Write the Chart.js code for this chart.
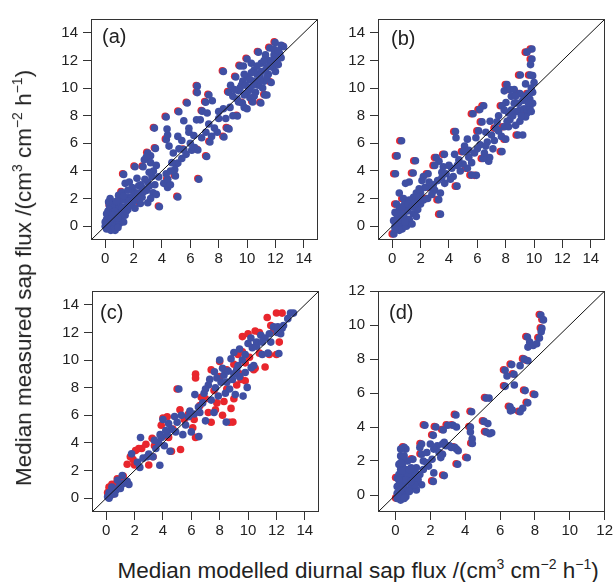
<!DOCTYPE html>
<html>
<head>
<meta charset="utf-8">
<script src="https://cdn.jsdelivr.net/npm/chart.js@4"></script>
<style>
body { margin:0; background:#fff; width:615px; height:582px; position:relative; overflow:hidden;
       font-family:"Liberation Sans", Arial, sans-serif; color:#222; }
.panel { position:absolute; width:297px; height:270px; }
.tag { position:absolute; font-size:20px; line-height:20px; }
.title { position:absolute; font-size:22.5px; line-height:22px; white-space:nowrap; transform-origin:center; }
sup { font-size:14px; line-height:0; vertical-align:9px; }
</style>
</head>
<body>
<div class="panel" style="left:31px;top:5px"><canvas id="ca" width="297" height="270"></canvas></div>
<div class="panel" style="left:318px;top:5px"><canvas id="cb" width="297" height="270"></canvas></div>
<div class="panel" style="left:32px;top:277px"><canvas id="cc" width="297" height="270"></canvas></div>
<div class="panel" style="left:318px;top:277px"><canvas id="cd" width="297" height="270"></canvas></div>

<div class="tag" style="left:102px;top:26px">(a)</div>
<div class="tag" style="left:391px;top:28px">(b)</div>
<div class="tag" style="left:100px;top:302px">(c)</div>
<div class="tag" style="left:389px;top:302px">(d)</div>

<div class="title" id="ytitle">Median measured sap flux /(cm<sup>3</sup> cm<sup>−2</sup> h<sup>−1</sup>)</div>
<div class="title" id="xtitle">Median modelled diurnal sap flux /(cm<sup>3</sup> cm<sup>−2</sup> h<sup>−1</sup>)</div>

<script>
// tick labels
const ticks14 = [0, 2, 4, 6, 8, 10, 12, 14];
const ticks12 = [0, 2, 4, 6, 8, 10, 12];

// 1:1 line ends
const diag15 = [-1, 15];
const diag12 = [-1, 12];

// (a)
const aBlue = [[0.0,0.0],[0.1,-0.2],[0.2,0.3],[0.1,0.5],[0.3,0.1],[0.4,-0.3],[0.5,0.2],[0.2,-0.1],[0.6,0.6],[0.7,0.1],[0.3,0.8],[0.5,1.0],[0.8,0.4],[0.9,0.9],[1.0,0.2],[0.6,-0.2],[1.1,0.6],[0.4,1.2],[0.8,1.3],[1.2,1.0],[0.2,1.1],[0.1,0.9],[0.7,-0.3],[1.3,0.3],[0.9,-0.1],[1.4,0.8],[0.3,1.5],[0.6,1.6],[1.5,1.1],[1.0,1.5],
  [0.35,2.0],[0.24,1.76],[0.94,2.23],[1.18,2.46],[1.7,2.1],[1.85,2.0],[1.3,3.75],[1.41,3.1],[1.7,3.2],[2.1,4.3],[2.24,3.47],[2.36,2.93],[2.19,2.1],[1.89,1.53],[1.4,1.4],[2.48,1.64],[3.0,1.7],[2.9,2.58],[3.37,2.42],[3.0,3.2],[3.5,3.0],[2.67,4.3],[2.76,4.81],[3.0,5.3],[3.2,5.1],[2.9,5.0],[3.2,4.6],[3.54,5.63],[3.47,7.1],[3.77,3.57],[3.6,2.3],[3.82,1.41],[4.13,3.1],[4.4,2.8],[4.41,3.4],[4.3,3.8],[4.6,3.0],[4.95,3.64],[5.0,4.5],[5.12,4.58],[4.8,5.3],[5.2,5.6],[4.31,6.27],[4.4,6.6],[4.36,7.04],[4.3,7.9],[4.5,5.8],[5.12,6.5],[5.4,6.2],[5.54,7.63],[5.54,5.54],[5.9,6.8],[5.9,7.09],[6.1,5.5],[6.25,6.57],[6.3,5.7],[6.53,5.52],[6.6,3.4],[6.44,7.7],[6.84,8.33],[6.7,7.7],[7.1,6.8],[7.19,8.2],[7.31,9.5],[7.55,9.08],[7.08,8.97],[7.15,5.05],[7.38,6.1],[7.5,6.5],[7.7,7.1],[7.9,6.8],[8.0,7.8],[8.33,8.5],[8.5,7.8],[8.6,7.09],[8.37,6.46],[8.73,7.04],[8.33,11.2],[8.7,9.7],[8.84,10.2],[9.2,10.8],[9.5,11.6],[9.74,11.6],[10.0,12.1],[9.5,10.0],[9.3,9.2],[9.67,8.92],[9.32,7.98],[10.0,8.5],[10.4,9.0],[10.97,8.92],[11.25,9.5],[11.4,9.5],
  [10.8,12.6],[11.3,12.4],[11.6,12.9],[11.98,13.3],[12.4,13.1],[12.57,13.0],[11.9,12.4],[12.1,12.0],[11.8,11.5],[12.2,11.7],[11.5,11.0],[11.2,10.5],[10.8,10.2],[10.5,10.5],[10.2,10.0],[9.9,9.6],[10.0,10.8],[10.5,11.3],[11.0,11.8],[11.5,12.0],[10.7,11.0],[11.3,11.3],[12.0,11.2],[11.7,10.4],[11.1,10.0],[10.6,9.7],[10.2,9.3],[9.8,9.5],[9.4,9.8],[9.0,9.4],[9.7,10.5],[10.3,11.8],[9.8,11.0],[11.9,12.8],[12.3,12.5],[6.49,10.14],[6.49,9.67],[5.19,8.29],[5.78,8.92],[5.4,4.9],[5.7,5.2],[4.9,4.1],[6.0,6.0],[6.8,6.4],[7.3,7.4],[8.0,8.3],[8.8,8.6],[9.0,8.0],[10.2,10.6],[11.0,11.2],
  [1.6,1.8],[2.0,2.5],[2.6,2.1],[2.8,3.4],[1.9,2.8],[2.5,3.0],[1.2,1.9],[2.1,1.3],[3.2,2.0],[2.7,2.5],
  [9.1,9.9],[9.6,10.2],[10.1,9.8],[10.4,10.2],[10.9,10.6],[11.4,10.8],[11.6,11.6],[12.0,12.3],[12.2,12.7],[11.2,12.0],[10.7,11.6],[10.3,11.1],[9.9,10.2],[9.4,9.0],[9.8,8.6],[10.5,9.4],[11.8,12.0],[12.4,12.2],[11.4,11.5],[10.9,10.9],
  [0.2,0.7],[0.5,0.8],[0.9,0.6],[1.2,1.3],[1.6,1.2],[0.8,1.8],[1.3,2.2],[1.6,2.6],[2.3,2.4],[2.6,2.8],[3.1,2.9],[3.3,3.6],[2.0,1.8],[1.7,1.5],[3.4,4.0],[3.6,4.4],[3.1,3.9],[4.6,4.0],[4.7,4.6],[5.12,2.11],[0.0,0.3],[0.4,0.5],[0.15,0.2]];
const aRed = [[3.40,7.15],[4.23,7.95],[4.24,6.32],[5.12,8.34],[5.71,8.97],[6.42,10.19],[6.42,9.72],[6.77,8.38],[7.24,9.55],[7.01,9.02],[8.26,11.25],[9.13,10.85],[9.43,11.65],[9.93,12.15],[10.73,12.65],[11.91,13.35],[11.53,12.95],[12.5,13.05],[10.9,8.97],[11.18,9.55],[9.6,8.97],[9.25,8.03],[8.53,7.14],[8.3,6.51],[7.08,5.1],[6.53,3.45],[3.75,1.46],[4.88,3.69],[2.41,1.69],[6.46,5.57],[5.47,5.59],[4.34,3.45],[8.63,9.75],[12.13,11.75],[11.63,10.45],[10.33,9.05],[2.93,5.35],[3.47,5.68],[1.23,3.8],[2.03,4.35],[2.6,4.35],[7.31,6.15],[8.66,7.09],[0.28,1.55],[1.11,2.51],[5.05,2.16]];

// (b)
const bBlue = [[9.85,12.83],[9.5,12.6],[9.85,12.1],[9.75,11.7],[9.73,10.95],[9.03,10.95],[9.9,10.9],[10.0,10.4],[8.09,10.25],[7.9,9.8],[8.3,9.9],[8.6,9.9],[9.0,9.6],[7.74,8.72],[8.02,8.96],[6.45,8.72],[6.17,8.44],[5.7,8.14],[6.33,7.55],[4.46,6.85],[4.5,6.4],[5.3,6.3],[5.1,5.8],[5.0,5.4],[5.9,6.4],[6.09,6.9],[6.7,6.1],[7.0,6.6],[7.3,7.1],[7.39,7.55],[7.9,7.2],[7.7,6.5],[8.2,7.2],[8.86,6.6],[8.0,6.3],[7.74,5.4],[6.87,4.97],[6.8,4.7],[6.4,4.9],[5.93,3.68],[5.6,3.7],[4.57,2.9],[5.3,4.2],[5.6,4.6],[5.0,4.5],[4.6,4.4],[4.2,4.2],[4.0,4.4],[4.4,5.2],[3.68,5.2],[3.1,4.97],[3.3,4.7],[3.0,4.4],[3.6,4.3],[3.8,3.8],[3.5,3.5],[3.2,3.3],[2.9,3.0],[2.7,2.8],[3.0,2.6],[3.4,2.4],[3.28,1.92],[3.4,0.87],[2.53,3.8],[2.2,3.6],[2.1,3.3],[2.3,2.8],[2.0,2.4],[2.5,2.0],[1.7,2.4],[1.5,2.1],[1.48,3.85],[1.2,3.2],[0.94,3.1],[1.64,4.74],[0.66,6.19],[0.35,5.09],[0.23,3.8],[0.5,2.4],[0.8,2.0],[0.3,1.6],[0.2,1.0],[0.5,1.2],[0.8,0.8],[1.0,1.3],[1.2,0.5],[0.6,0.2],[0.3,0.3],[0.4,-0.1],[0.12,-0.56],[0.7,-0.2],[1.0,0.0],[1.3,0.2],[1.4,0.16],[1.5,0.9],[1.8,1.2],[2.0,1.6],[0.9,1.7],[1.2,1.9],[0.5,0.6],[0.1,0.4],[0.2,0.0],[1.0,0.5],[1.8,1.8],[9.5,8.2],[9.3,8.5],[9.0,8.4],[9.7,9.2],[9.9,9.7],[9.6,9.6],[9.2,9.1],[8.8,8.3],[8.6,8.9],[9.0,7.6],[9.4,7.9],[8.3,7.7],[9.7,8.6],[9.9,8.9],[8.7,7.3],[9.2,6.6],[8.5,8.0],[7.5,8.0],[6.9,7.6],[6.6,6.8],[6.2,5.9],[5.8,5.3],[4.8,4.0],[4.3,3.6],[3.7,3.1],[2.6,3.2],[1.9,2.1],[1.1,1.1],[0.6,0.9],[0.4,0.7],[7.1,5.6],[7.5,6.9],[8.4,9.4],[9.4,10.3],[6.5,5.3],[5.4,5.0],
  [0.3,0.9],[0.7,1.4],[1.1,1.6],[1.4,1.4],[1.6,1.6],[0.9,0.3],[0.5,-0.3],[0.2,-0.2],[1.7,0.7],[2.2,1.9],[2.8,2.3],[1.9,2.7],[3.5,3.9],[4.1,3.4],[4.7,4.8],[5.4,5.5],[6.0,5.6],[6.6,5.8],[7.2,6.2],[8.1,7.6],[8.4,8.4],[8.9,8.9],[9.3,9.4],[9.6,8.9],[9.8,8.3],[9.1,8.0],[8.7,9.4],[9.8,10.0],[8.2,8.2],[7.9,8.4]];
const bRed = [[9.73,12.83],[9.38,12.6],[9.73,12.1],[8.91,10.95],[9.61,10.95],[7.97,10.25],[6.33,8.72],[6.05,8.44],[5.58,8.14],[6.21,7.55],[4.34,6.85],[3.56,5.2],[2.98,4.97],[3.16,1.92],[3.28,0.87],[4.45,2.9],[5.81,3.68],[5.48,3.7],[6.75,4.97],[7.62,5.4],[8.74,6.6],[7.62,8.72],[8.18,9.9],[1.52,4.74],[0.54,6.19],[0.23,5.09],[0.11,3.8],[0.0,-0.56],[1.36,3.85],[2.41,3.8],[5.18,4.2],[6.28,4.9],[7.78,7.2],[7.18,7.1],[5.97,6.9],[4.88,5.4],[2.88,4.4],[2.58,2.8],[1.18,0.2],[0.68,2.0],[9.38,8.2],[9.48,9.6],[7.88,6.3],[8.88,9.6],[0.88,1.3],[0.18,1.6],[2.38,2.0]];

// (c)
const cBlue = [[0.1,0.1],[0.2,0.4],[0.3,0.2],[0.5,0.5],[0.4,0.8],[0.7,0.6],[0.9,0.8],[1.1,1.0],[1.3,1.1],[1.48,1.22],[1.6,1.0],[1.13,1.64],[0.8,1.3],[1.0,0.7],[0.6,0.3],[0.2,0.0],[1.79,3.21],[2.42,4.39],[2.37,2.23],[2.6,2.9],[3.0,3.2],[3.3,3.0],[3.5,3.6],[3.7,4.0],[3.78,2.39],[3.9,4.4],[4.1,3.8],[4.3,4.6],[4.6,5.0],[4.5,3.4],[4.0,5.7],[4.82,5.91],[5.12,7.9],[5.0,5.5],[5.4,4.6],[5.6,5.3],[5.9,6.3],[6.0,4.8],[6.25,7.5],[6.5,6.6],[6.53,4.46],[6.8,6.9],[7.0,5.6],[7.2,8.2],[7.3,8.6],[7.63,9.15],[7.7,8.0],[7.9,7.4],[8.1,8.4],[8.3,8.9],[8.0,10.0],[8.46,5.51],[8.4,7.6],[8.7,7.9],[8.9,8.6],[9.2,9.3],[9.0,10.55],[9.4,10.8],[9.6,10.0],[9.4,8.8],[9.1,7.5],[9.65,7.39],[9.94,8.02],[10.22,9.45],[10.4,9.6],[10.0,11.2],[10.2,11.6],[10.6,11.3],[10.9,11.8],[11.2,11.6],[11.5,11.9],[11.0,10.4],[11.4,10.5],[12.17,10.48],[12.05,12.0],[12.5,12.5],[12.99,13.41],[13.2,13.4],[12.8,13.0],[12.4,12.3],[11.8,12.4],[10.6,11.0],[9.8,10.4],[3.4,4.2],[3.8,4.6],[4.2,4.9],[4.4,5.4],[5.8,5.9],[6.2,6.1],[6.9,7.6],[7.4,7.1],[7.6,6.2],[8.2,9.4],[8.6,9.2],[9.0,9.0],[9.3,9.6],[8.8,10.1],[9.8,9.1],[10.3,10.9],[11.0,11.3],[11.6,11.3],[12.1,12.4],[12.3,11.9],[7.0,7.9],[6.6,6.2],[5.3,6.0],[4.9,4.8],[2.2,2.6],[2.9,3.0],[7.8,8.7],[8.5,8.4]];
const cRed = [[0.1,0.4],[0.2,0.8],[0.4,1.0],[0.5,0.3],[0.6,1.0],[0.78,1.41],[1.0,1.2],[1.48,2.46],[1.7,3.0],[1.9,2.8],[2.07,3.45],[2.5,3.6],[2.8,3.9],[3.0,2.4],[3.24,4.34],[3.4,3.8],[3.88,5.28],[4.0,5.8],[4.3,5.9],[4.4,4.4],[4.6,3.4],[5.24,3.52],[5.5,5.7],[5.8,6.1],[6.1,5.1],[6.3,4.4],[6.3,8.98],[6.3,8.7],[6.6,6.7],[7.0,7.2],[7.2,6.2],[7.4,5.5],[7.6,7.8],[7.8,6.9],[8.2,6.0],[8.3,7.0],[8.5,7.9],[8.8,6.5],[8.93,5.51],[9.2,8.2],[9.5,8.6],[9.8,9.8],[9.0,9.7],[8.5,9.3],[8.0,8.8],[9.3,10.4],[9.6,11.7],[10.0,11.9],[10.5,12.1],[11.35,13.08],[12.0,13.41],[12.4,13.4],[10.8,10.5],[11.2,9.5],[11.5,10.4],[12.0,10.4],[10.4,9.3],[11.8,12.1],[12.2,11.3],[5.0,7.9],[7.4,9.3],[8.0,9.9],[9.6,10.6],[10.8,12.0],[11.6,12.5],[9.8,8.5],[9.0,7.2],[8.7,5.5],[4.7,5.0],[3.3,3.0],[2.0,2.4],[1.2,1.6],[0.3,0.6],[6.7,7.3],[5.2,6.4],[7.7,6.4],[9.4,9.0],[10.1,10.2],[10.5,9.4],[6.2,5.7],[3.6,4.0],[2.3,3.6]];

// (d)
const dBlue = [[8.34,10.59],[8.49,10.3],[8.4,9.8],[8.36,9.6],[8.26,9.23],[7.57,9.29],[7.7,9.0],[7.6,8.7],[7.9,8.8],[8.1,8.9],[7.38,7.99],[7.6,7.9],[6.67,7.67],[6.29,7.34],[7.15,7.61],[6.4,7.0],[6.8,7.1],[6.29,6.39],[6.82,6.47],[7.44,6.14],[7.99,5.91],[7.59,5.42],[7.3,5.1],[7.15,4.9],[6.57,5.19],[6.7,5.0],[6.6,4.95],[5.37,5.7],[5.2,5.7],[5.08,4.33],[5.3,4.2],[5.2,3.7],[5.4,3.6],[5.52,3.66],[4.37,4.9],[4.3,4.0],[4.3,3.7],[4.4,3.3],[4.41,3.03],[4.12,2.19],[3.47,4.71],[3.3,4.1],[3.5,4.0],[3.0,4.1],[3.5,2.7],[3.4,2.8],[3.6,2.6],[3.57,1.81],[2.8,1.14],[2.8,3.1],[2.7,3.0],[2.7,2.4],[2.6,2.2],[2.4,2.9],[2.17,3.51],[2.32,4.0],[2.74,3.82],[2.2,2.7],[2.0,3.0],[1.69,4.1],[1.5,3.0],[1.4,2.8],[1.5,2.4],[1.8,2.5],[2.17,0.8],[2.2,1.3],[1.9,1.7],[1.6,1.5],[1.2,1.6],[1.0,2.1],[0.6,2.7],[0.5,2.8],[0.3,2.7],[0.4,2.2],[0.7,2.0],[0.2,1.8],[0.3,1.5],[0.5,1.3],[0.8,1.1],[1.1,1.0],[1.5,0.6],[1.3,0.9],[0.9,0.5],[0.6,0.3],[0.3,0.8],[0.1,0.5],[0.1,1.0],[0.2,0.2],[0.4,0.0],[0.1,-0.2],[0.3,-0.3],[0.6,-0.1],[0.8,0.2],[1.2,0.3],[0.5,0.6],[0.2,0.6],[0.7,0.8],[1.0,1.4],[0.4,1.8],[0.2,1.2],[0.1,0.1],[0.6,1.5],[1.4,1.2],[1.8,1.9],[2.1,2.1],[0.3,1.1],[0.5,0.9],[0.2,-0.1],[0.4,0.4],[0.9,1.6],[1.6,2.0],[2.9,2.9],[3.1,2.9],[3.2,2.8],[2.5,2.5],[0.3,2.3],[0.7,1.2],[1.1,0.6],
  [0.2,0.9],[0.4,1.4],[0.6,0.9],[0.8,1.5],[0.3,0.3],[0.5,-0.2],[0.9,0.8],[1.2,1.2],[0.3,1.9],[0.5,2.3]];
const dRed = [[8.25,10.62],[8.4,10.33],[8.31,9.83],[8.17,9.26],[7.48,9.32],[7.29,8.02],[6.58,7.7],[6.2,7.37],[6.71,7.13],[6.2,6.42],[7.35,6.17],[7.9,5.94],[7.5,5.45],[6.48,5.22],[5.11,5.73],[4.99,4.36],[5.11,3.73],[4.28,4.93],[4.21,4.03],[4.32,3.06],[4.03,2.22],[3.38,4.74],[3.21,4.13],[2.91,4.13],[3.48,1.84],[2.71,1.17],[2.08,0.83],[1.6,4.13],[2.23,4.03],[2.08,3.54],[2.65,3.85],[1.41,3.03],[0.41,2.83],[0.01,1.03],[0.01,-0.17],[0.91,2.13],[1.41,2.43],[2.61,2.43],[3.31,2.83],[7.06,4.93],[6.61,5.03],[7.51,7.93]];

const BLUE = '#3f4fa3';
const RED = '#e8262d';
const FONT = '"Liberation Sans", Arial, sans-serif';

// frame round the plot area
const boxPlugin = {
  id: 'box',
  afterDatasetsDraw(chart) {
    const a = chart.chartArea, c = chart.ctx;
    c.save();
    c.strokeStyle = '#333';
    c.lineWidth = 1;
    c.strokeRect(Math.round(a.left) + 0.5, Math.round(a.top) + 0.5,
                 Math.round(a.right - a.left) - 1, Math.round(a.bottom - a.top) - 1);
    c.restore();
  }
};

function pts(arr) {
  return arr.map(p => ({ x: p[0], y: p[1] }));
}

function axis(max, tickVals, horizontal) {
  return {
    type: 'linear',
    min: -1,
    max: max,
    afterBuildTicks: s => { s.ticks = tickVals.map(v => ({ value: v })); },
    afterFit: s => { if (horizontal) s.height = 35; else s.width = 60; },
    grid: { drawOnChartArea: false, drawTicks: true, tickLength: 8, tickColor: '#333', color: '#333' },
    border: { display: false },
    ticks: { autoSkip: false, maxRotation: 0, color: '#222', padding: horizontal ? 2 : 5,
             font: { family: FONT, size: 15 } }
  };
}

function makePanel(id, blue, red, diag, tickVals) {
  new Chart(document.getElementById(id), {
    type: 'scatter',
    data: {
      datasets: [
        { data: pts([[diag[0], diag[0]], [diag[1], diag[1]]]), showLine: true,
          borderColor: '#111', borderWidth: 1, pointRadius: 0 },
        { data: pts(blue), backgroundColor: BLUE, borderWidth: 0, pointRadius: 3.8 },
        { data: pts(red), backgroundColor: RED, borderWidth: 0, pointRadius: 3.8 }
      ]
    },
    options: {
      responsive: false,
      animation: false,
      layout: { padding: { left: 0, right: 10, top: 8, bottom: 0 } },
      plugins: { legend: { display: false }, tooltip: { enabled: false } },
      scales: {
        x: axis(diag[1], tickVals, true),
        y: axis(diag[1], tickVals, false)
      }
    },
    plugins: [boxPlugin]
  });
}

makePanel('ca', aBlue, aRed, diag15, ticks14);
makePanel('cb', bBlue, bRed, diag15, ticks14);
makePanel('cc', cBlue, cRed, diag15, ticks14);
makePanel('cd', dBlue, dRed, diag12, ticks12);

// place the shared axis titles
const yt = document.getElementById('ytitle');
yt.style.left = (24 - yt.offsetWidth / 2) + 'px';
yt.style.top = (278 - yt.offsetHeight / 2) + 'px';
yt.style.transform = 'rotate(-90deg)';
const xt = document.getElementById('xtitle');
xt.style.left = (358 - xt.offsetWidth / 2) + 'px';
xt.style.top = (571 - xt.offsetHeight / 2) + 'px';
</script>
</body>
</html>
